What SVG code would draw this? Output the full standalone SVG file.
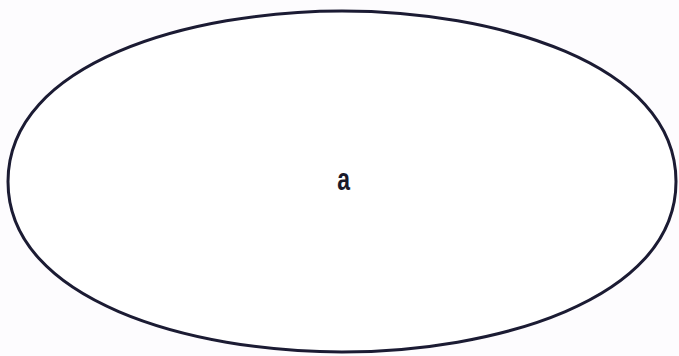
<svg xmlns="http://www.w3.org/2000/svg" width="679" height="356" viewBox="0 0 679 356">
<style>
.node-shape{fill:#ffffff;stroke:#1b1b33;stroke-width:3}
.label{font-family:"Liberation Sans",Arial,sans-serif;font-weight:bold;fill:#1a1a2a}
</style>
<rect width="679" height="356" fill="#fdfcfe"/>
<g id="connectors"></g>
<g id="node-a">
<path class="node-shape" d="M8,181.5 C8,62 191.7,11 342,11 C492.3,11 676,62 676,181.5 C676,301 492.3,352 342,352 C191.7,352 8,301 8,181.5 Z"/>
<text class="label" font-size="31" text-anchor="middle" transform="translate(343.5,189.5) scale(0.74,1)">a</text>
</g>
</svg>
